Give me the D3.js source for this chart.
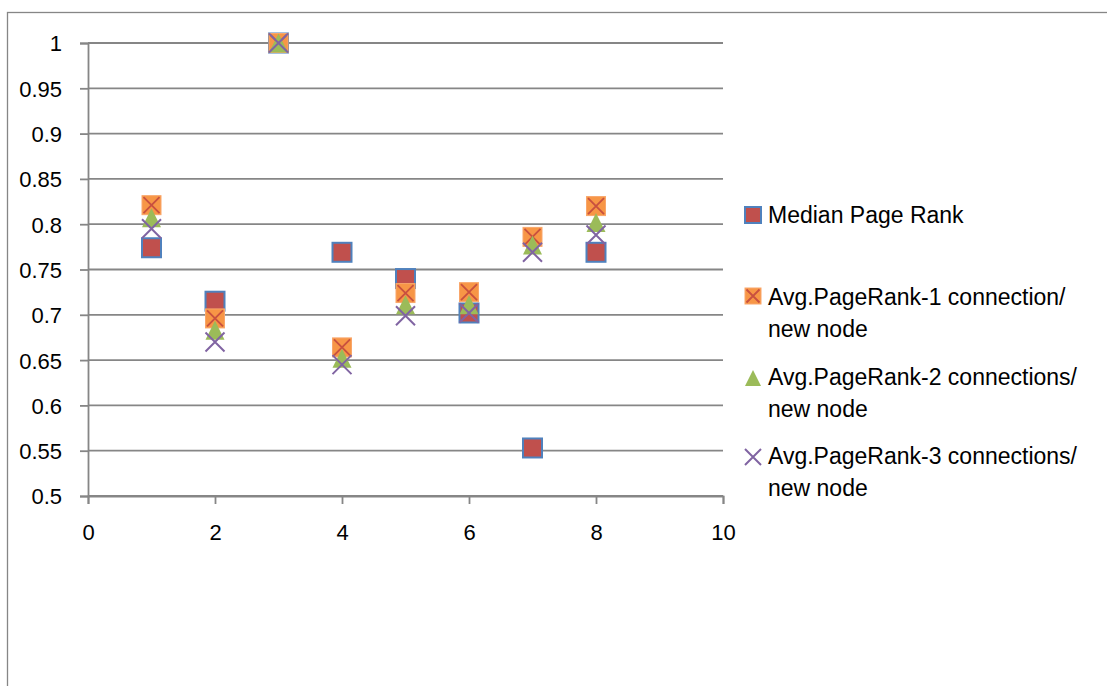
<!DOCTYPE html>
<html>
<head>
<meta charset="utf-8">
<script src="https://cdn.jsdelivr.net/npm/d3@7"></script>
<style>
  body { margin: 0; background: #fff; }
  svg { display: block; }
  text { font-family: "Liberation Sans", Arial, sans-serif; fill: #000; }
</style>
</head>
<body>
<svg id="chart" width="1107" height="686"></svg>
<script>
// ---- data ----
const xValues = [1, 2, 3, 4, 5, 6, 7, 8];
const medianPageRank = [0.774, 0.715, 1.0, 0.769, 0.740, 0.702, 0.553, 0.769];
const avgPageRank1 = [0.821, 0.696, 1.0, 0.664, 0.724, 0.725, 0.786, 0.820];
const avgPageRank2 = [0.807, 0.683, 1.0, 0.652, 0.711, 0.711, 0.777, 0.802];
const avgPageRank3 = [0.795, 0.670, 1.0, 0.645, 0.699, 0.702, 0.769, 0.788];
const xTicks = [0, 2, 4, 6, 8, 10];
const yTicks = [0.5, 0.55, 0.6, 0.65, 0.7, 0.75, 0.8, 0.85, 0.9, 0.95, 1];
const seriesNames = [
  ["Median Page Rank"],
  ["Avg.PageRank-1 connection/", "new node"],
  ["Avg.PageRank-2 connections/", "new node"],
  ["Avg.PageRank-3 connections/", "new node"]
];

const svg = d3.select("#chart");
const grid = "#868686";

// outer chart border
svg.append("rect").attr("x", 7.5).attr("y", 12.5).attr("width", 1300).attr("height", 900)
  .attr("fill", "none").attr("stroke", grid).attr("stroke-width", 1.3);

const x = d3.scaleLinear().domain([0, 10]).range([88, 723]);
const y = d3.scaleLinear().domain([0.5, 1]).range([496, 43]);

// gridlines
svg.append("g").selectAll("line").data(yTicks).join("line")
  .attr("x1", x(0)).attr("x2", x(10))
  .attr("y1", d => y(d)).attr("y2", d => y(d))
  .attr("stroke", grid).attr("stroke-width", 1.8);

// y axis
const yAxis = svg.append("g").attr("transform", `translate(${x(0)},0)`)
  .call(d3.axisLeft(y).tickValues(yTicks).tickSize(8).tickPadding(18).tickFormat(d => d3.format("")(+d.toFixed(2))));
yAxis.select(".domain").attr("stroke", grid).attr("stroke-width", 1.8);
yAxis.selectAll(".tick line").attr("stroke", grid).attr("stroke-width", 1.8);
yAxis.selectAll(".tick text").attr("font-size", 22).attr("font-family", "Liberation Sans, Arial, sans-serif").attr("fill", "#000").attr("dy", "0.36em");

// x axis
const xAxis = svg.append("g").attr("transform", `translate(0,${y(0.5)})`)
  .call(d3.axisBottom(x).tickValues(xTicks).tickSize(8).tickPadding(20).tickFormat(d3.format("d")));
xAxis.select(".domain").attr("stroke", grid).attr("stroke-width", 1.8);
xAxis.selectAll(".tick line").attr("stroke", grid).attr("stroke-width", 1.8);
xAxis.selectAll(".tick text").attr("font-size", 22).attr("font-family", "Liberation Sans, Arial, sans-serif").attr("fill", "#000");

// marker drawers
function squareRed(g, cx, cy, s) {
  g.append("rect").attr("x", cx - s / 2).attr("y", cy - s / 2).attr("width", s).attr("height", s)
    .attr("fill", "#C0504D").attr("stroke", "#4F81BD").attr("stroke-width", 2);
}
function squareOrange(g, cx, cy, s) {
  g.append("rect").attr("x", cx - s / 2).attr("y", cy - s / 2).attr("width", s).attr("height", s)
    .attr("fill", "#F79646").attr("stroke", "#F9A66A").attr("stroke-width", 1);
  const h = s / 2 - 1.5;
  g.append("path").attr("d", `M${cx - h},${cy - h}L${cx + h},${cy + h}M${cx - h},${cy + h}L${cx + h},${cy - h}`)
    .attr("stroke", "#C8503F").attr("stroke-width", 1.8).attr("fill", "none");
}
function triangleGreen(g, cx, cy, s) {
  const h = s / 2;
  g.append("path").attr("d", `M${cx},${cy - h}L${cx + h},${cy + h}L${cx - h},${cy + h}Z`)
    .attr("fill", "#9BBB59");
}
function crossPurple(g, cx, cy, s) {
  const h = s / 2;
  g.append("path").attr("d", `M${cx - h},${cy - h}L${cx + h},${cy + h}M${cx - h},${cy + h}L${cx + h},${cy - h}`)
    .attr("stroke", "#8064A2").attr("stroke-width", 2).attr("fill", "none");
}

const series = [
  { values: medianPageRank, draw: squareRed },
  { values: avgPageRank1, draw: squareOrange },
  { values: avgPageRank2, draw: triangleGreen },
  { values: avgPageRank3, draw: crossPurple }
];

const marks = svg.append("g");
series.forEach(s => {
  const g = marks.append("g");
  s.values.forEach((v, i) => s.draw(g, x(xValues[i]), y(v), 19));
});

// legend
const legend = svg.append("g");
const legendRows = [
  { markY: 215, baselines: [223] },
  { markY: 296, baselines: [305, 337] },
  { markY: 378, baselines: [385, 417] },
  { markY: 457, baselines: [464, 496] }
];
legendRows.forEach((r, i) => {
  const g = legend.append("g");
  series[i].draw(g, 753, r.markY, 16);
  seriesNames[i].forEach((line, j) => {
    g.append("text").attr("x", 768).attr("y", r.baselines[j]).attr("font-size", 23).text(line);
  });
});
</script>
</body>
</html>
